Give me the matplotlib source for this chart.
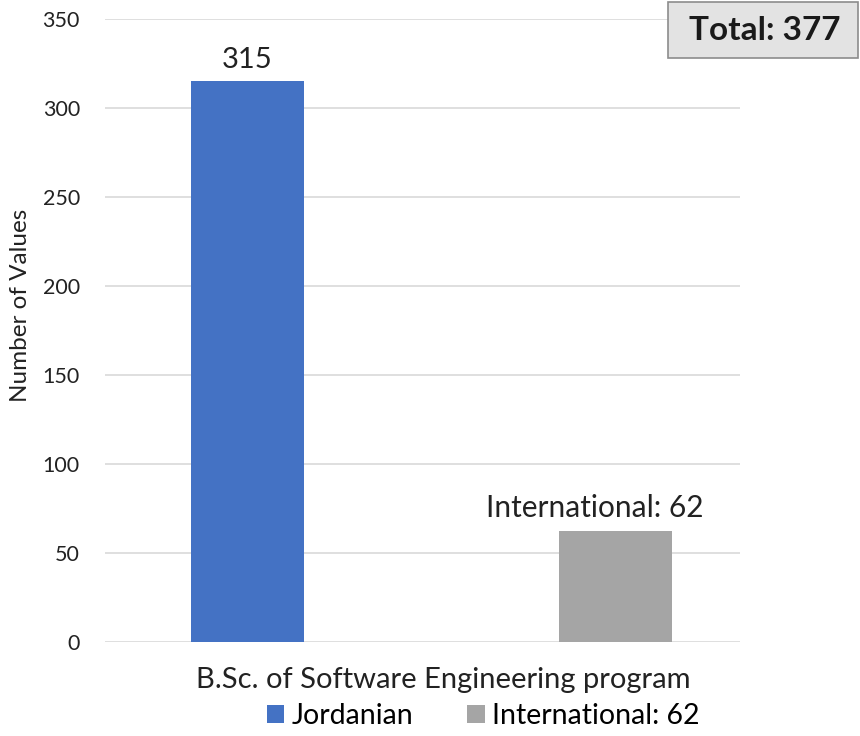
import matplotlib.pyplot as plt
from matplotlib.patches import Rectangle

plt.rcParams['font.family'] = ['Lato', 'DejaVu Sans']

series = ["Jordanian", "International"]
counts = [315, 62]
colors = ["#4472C4", "#A5A5A5"]
category = "B.Sc. of Software Engineering program"
yticks = [0, 50, 100, 150, 200, 250, 300, 350]

fig = plt.figure(figsize=(8.6, 7.36), dpi=100)
ax = fig.add_axes([0.122, 0.128, 0.738, 0.846])

pos = [0, 1]
width = 0.307
legend_labels = [series[0], f"{series[1]}: {counts[1]}"]
for p, c, col, lab in zip(pos, counts, colors, legend_labels):
    ax.bar(p, c, width=width, color=col, label=lab, zorder=3)

ax.annotate(str(counts[0]), (pos[0], counts[0]), xytext=(0, 6), textcoords='offset points',
            ha='center', va='bottom', fontsize=21, color='#222222')
ax.annotate(f"{series[1]}: {counts[1]}", (pos[1], counts[1]), xytext=(-15, 7), textcoords='offset points',
            ha='center', va='bottom', fontsize=21.5, color='#222222')

ax.set_xlim(-0.387, 1.336)
ax.set_ylim(0, 350)
ax.set_yticks(yticks)
ax.set_xticks([])
ax.tick_params(axis='y', length=0, labelsize=15.5, pad=18, colors='#222222')
ax.grid(axis='y', color='#D9D9D9', linewidth=1.2, zorder=0)
for s in ax.spines.values():
    s.set_visible(False)

ax.set_ylabel("Number of Values", fontsize=17.5, color='#222222')
ax.yaxis.set_label_coords(-0.116, 0.54)
ax.set_xlabel(category, fontsize=21, color='#222222')
ax.xaxis.set_label_coords(0.533, -0.04)

fig.legend(loc='lower center', bbox_to_anchor=(0.562, -0.025), ncol=2, frameon=False,
           fontsize=20.5, handlelength=0.6, handleheight=0.6, handletextpad=0.25, columnspacing=1.9)

fig.patches.append(Rectangle((668 / 860, 1 - 58 / 736), 190 / 860, 56 / 736, transform=fig.transFigure,
                             facecolor='#E3E3E3', edgecolor='#8C8C8C', linewidth=1.2, zorder=5))
fig.text(765 / 860, 1 - 31 / 736, f"Total: {sum(counts)}", ha='center', va='center', fontsize=24,
         fontweight='bold', color='#1a1a1a', zorder=6)

fig.savefig("out.png", dpi=100, facecolor='white')
